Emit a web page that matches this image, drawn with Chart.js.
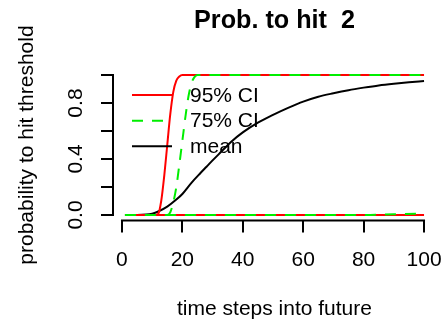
<!DOCTYPE html>
<html>
<head>
<meta charset="utf-8">
<script src="https://cdn.jsdelivr.net/npm/chart.js@4.4.0/dist/chart.umd.min.js"></script>
<style>
  html, body { margin: 0; padding: 0; background: #fff; }
  #wrap { width: 447px; height: 323px; }
</style>
</head>
<body>
<div id="wrap"><canvas id="chart" width="447" height="323"></canvas></div>
<script>
/* ── Data ── */
const TITLE = 'Prob. to hit  2';
const X_TITLE = 'time steps into future';
const Y_TITLE = 'probability to hit threshold';
const X_TICKS = [0, 20, 40, 60, 80, 100];
const Y_TICKS = [0, 0.2, 0.4, 0.6, 0.8, 1.0];
const Y_LABELS = [0, 0.4, 0.8];
const LEGEND = ['95% CI', '75% CI', 'mean'];

const RED_X = [1, 11, 12, 13, 14, 15, 16, 17, 18, 19, 20, 100];
const RED_UPPER = [0, 0, 0.008, 0.1, 0.28, 0.5, 0.72, 0.88, 0.96, 0.99, 1, 1];
const RED_LOWER_X = [1, 100];
const RED_LOWER = [0, 0];

const GREEN_X = [1, 15, 16, 17, 18, 19, 20, 21, 22, 23, 24, 25, 100];
const GREEN_UPPER = [0, 0, 0.02, 0.09, 0.2, 0.36, 0.53, 0.7, 0.845, 0.94, 0.985, 1, 1];
const GREEN_LOWER_X = [1, 80, 90, 100];
const GREEN_LOWER = [0, 0, 0.005, 0.01];

const MEAN_X = [1, 5, 8, 10, 12, 15, 18, 20, 23, 26, 28, 30, 33, 36, 40, 45, 50, 55, 60, 65, 70, 75, 80, 85, 90, 95, 100];
const MEAN = [0, 0, 0.003, 0.01, 0.025, 0.06, 0.11, 0.15, 0.23, 0.3, 0.345, 0.39, 0.455, 0.52, 0.59, 0.66, 0.715, 0.765, 0.81, 0.845, 0.87, 0.892, 0.91, 0.926, 0.938, 0.948, 0.957];

/* ── Style ── */
const FONT = "'Liberation Sans', Arial, Helvetica, sans-serif";
const RED = '#ff0000';
const GREEN = '#00ee00';
const BLACK = '#000000';
const DASH = [11, 9];
const FS = 21;

Chart.defaults.font.family = FONT;
Chart.defaults.color = BLACK;

const pts = (xs, ys) => xs.map((x, i) => ({ x, y: ys[i] }));

// R-style 4% padding around the data range
const xPad = 0.04 * (100 - 1);
const yPad = 0.04 * (1 - 0);

const lineStyle = (color, dash, order) => ({
    borderColor: color,
    borderWidth: 2,
    borderDash: dash,
    pointRadius: 0,
    fill: false,
    cubicInterpolationMode: 'monotone',
    order
});

/* ── R-like axes: lines only from first to last tick, rotated y labels, legend ── */
const rAxesPlugin = {
    id: 'rAxes',
    afterDraw(chart) {
        const { ctx, chartArea, scales: { x, y } } = chart;
        ctx.save();
        ctx.strokeStyle = BLACK;
        ctx.lineWidth = 2;
        ctx.beginPath();
        ctx.moveTo(x.getPixelForValue(X_TICKS[0]) - 1, chartArea.bottom);
        ctx.lineTo(x.getPixelForValue(X_TICKS[X_TICKS.length - 1]) + 1, chartArea.bottom);
        ctx.moveTo(chartArea.left, y.getPixelForValue(Y_TICKS[0]) + 1);
        ctx.lineTo(chartArea.left, y.getPixelForValue(Y_TICKS[Y_TICKS.length - 1]) - 1);
        ctx.stroke();

        ctx.fillStyle = BLACK;
        ctx.font = `${FS}px ${FONT}`;
        ctx.textAlign = 'center';
        ctx.textBaseline = 'alphabetic';
        Y_LABELS.forEach(v => {
            ctx.save();
            ctx.translate(chartArea.left - 31, y.getPixelForValue(v));
            ctx.rotate(-Math.PI / 2);
            ctx.fillText(v.toFixed(1), 0, 0);
            ctx.restore();
        });
        ctx.restore();
    },
    afterDatasetsDraw(chart) {
        const { ctx, chartArea } = chart;
        const styles = [[RED, []], [GREEN, DASH], [BLACK, []]];
        ctx.save();
        ctx.font = `${FS}px ${FONT}`;
        ctx.textAlign = 'left';
        ctx.textBaseline = 'middle';
        LEGEND.forEach((label, i) => {
            const ly = chartArea.top + 25.6 + i * 25.6;
            const lx = chartArea.left + 19;
            ctx.strokeStyle = styles[i][0];
            ctx.setLineDash(styles[i][1]);
            ctx.lineWidth = 2;
            ctx.beginPath();
            ctx.moveTo(lx, ly);
            ctx.lineTo(lx + 40, ly);
            ctx.stroke();
            ctx.setLineDash([]);
            ctx.fillStyle = BLACK;
            ctx.fillText(label, lx + 58, ly + 0.8);
        });
        ctx.restore();
    }
};

new Chart(document.getElementById('chart'), {
    type: 'line',
    data: {
        datasets: [
            { label: LEGEND[0], data: pts(RED_X, RED_UPPER), ...lineStyle(RED, [], 2) },
            { label: LEGEND[0], data: pts(RED_LOWER_X, RED_LOWER), ...lineStyle(RED, [], 2) },
            { label: LEGEND[1], data: pts(GREEN_X, GREEN_UPPER), ...lineStyle(GREEN, DASH, 1) },
            { label: LEGEND[1], data: pts(GREEN_LOWER_X, GREEN_LOWER), ...lineStyle(GREEN, DASH, 1) },
            { label: LEGEND[2], data: pts(MEAN_X, MEAN), ...lineStyle(BLACK, [], 3) }
        ]
    },
    options: {
        responsive: false,
        animation: false,
        devicePixelRatio: 1,
        layout: { padding: { top: 0, right: 11, bottom: 0, left: 0 } },
        plugins: {
            legend: { display: false },
            tooltip: { enabled: false },
            title: {
                display: true,
                text: TITLE,
                fullSize: false,
                color: BLACK,
                font: { size: 25.2, weight: 'bold' },
                padding: { top: 6.3, bottom: 32.9 }
            }
        },
        scales: {
            x: {
                type: 'linear',
                min: 1 - xPad,
                max: 100 + xPad,
                afterBuildTicks: s => { s.ticks = X_TICKS.map(v => ({ value: v })); },
                afterFit: s => { s.height = 102.4; s.paddingLeft = 0; s.paddingRight = 0; },
                border: { display: false },
                grid: { drawOnChartArea: false, drawTicks: true, tickLength: 12, lineWidth: 2, color: BLACK },
                ticks: { color: BLACK, font: { size: FS }, padding: 14.8, maxRotation: 0, autoSkip: false },
                title: { display: true, text: X_TITLE, color: BLACK, font: { size: FS }, padding: { top: 0, bottom: 0.9 } }
            },
            y: {
                type: 'linear',
                min: 0 - yPad,
                max: 1 + yPad,
                afterBuildTicks: s => { s.ticks = Y_TICKS.map(v => ({ value: v })); },
                afterFit: s => { s.width = 113; s.paddingTop = 0; s.paddingBottom = 0; },
                border: { display: false },
                grid: { drawOnChartArea: false, drawTicks: true, tickLength: 12, lineWidth: 2, color: BLACK },
                ticks: { display: false },
                title: { display: true, text: Y_TITLE, color: BLACK, font: { size: FS }, padding: { top: 14.4, bottom: 0 } }
            }
        }
    },
    plugins: [rAxesPlugin]
});
</script>
</body>
</html>
